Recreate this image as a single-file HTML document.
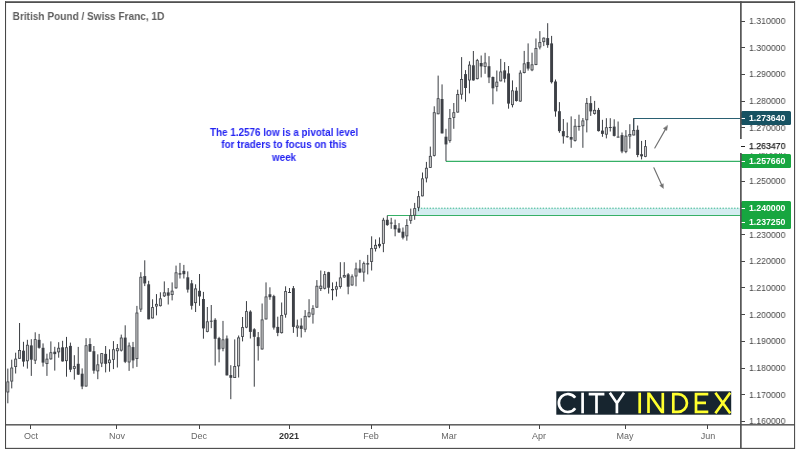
<!DOCTYPE html>
<html><head><meta charset="utf-8"><title>GBPCHF</title>
<style>
html,body{margin:0;padding:0;background:#fff;}
body{width:800px;height:454px;position:relative;overflow:hidden;font-family:"Liberation Sans",sans-serif;}
#frame{position:absolute;left:5px;top:1.5px;width:788px;height:445px;border:1.5px solid #444;box-sizing:content-box;}
#hax{position:absolute;left:5px;top:423.9px;width:789px;height:1.5px;background:#444;}
#vax{position:absolute;left:740.3px;top:2px;width:1.4px;height:446px;background:#505050;}
#title{position:absolute;left:13px;top:10.4px;font-size:11px;font-weight:bold;color:#5e5e5e;white-space:nowrap;transform-origin:0 0;transform:translateX(-0.4px) scaleX(0.916);}
#note{position:absolute;left:183.9px;top:126.9px;width:200px;text-align:center;font-size:10.3px;line-height:12.3px;font-weight:bold;color:#2424f2;white-space:nowrap;transform:scaleX(0.958);transform-origin:50% 0;}
.yl{position:absolute;left:749.1px;font-size:9.6px;line-height:12px;height:12px;color:#484848;white-space:nowrap;transform:scaleX(0.91);transform-origin:0 50%;}
.tk{position:absolute;left:741px;width:4px;height:1px;background:#444;}
.xl{position:absolute;top:430px;width:40px;text-align:center;font-size:9px;line-height:12px;color:#666;}
.xl.b{font-weight:bold;color:#333;}
.xt{position:absolute;top:425px;width:1px;height:3.5px;background:#444;}
.pl{position:absolute;left:741px;width:49.7px;height:13.8px;border-radius:1.5px;color:#fff;font-size:9.6px;font-weight:bold;line-height:13.8px;white-space:nowrap;}
.pl span{position:absolute;left:8.4px;top:0.3px;transform:scaleX(0.91);transform-origin:0 50%;}
.pl:before{content:"";position:absolute;left:0;top:6.5px;width:3.6px;height:1px;background:#fff;}
#curbox{position:absolute;left:739.6px;top:139.3px;width:51px;height:13.7px;background:#fff;}
#curtk{position:absolute;left:741px;top:145.5px;width:3.6px;height:1.4px;background:#222;}
#cur{position:absolute;left:749.1px;top:140.4px;font-size:9.6px;line-height:12px;color:#1c1c1c;white-space:nowrap;transform:scaleX(0.91);transform-origin:0 50%;-webkit-text-stroke:0.25px #1c1c1c;}
#yax{position:absolute;left:0;top:0;width:800px;height:425px;overflow:hidden;}
svg{position:absolute;left:0;top:0;}
.yl,#cur,.xl,.pl,#title,#note{will-change:transform;}
</style></head><body>
<svg width="800" height="454" viewBox="0 0 800 454">
<rect x="415" y="208.2" width="325.5" height="7.2" fill="#d3edf0"/>
<line x1="418" y1="208.2" x2="741" y2="208.2" stroke="#35b58a" stroke-width="1" stroke-dasharray="1.4 1.5"/>
<line x1="387.2" y1="215.5" x2="741" y2="215.5" stroke="#36b066" stroke-width="1.1"/>
<line x1="445.9" y1="161.3" x2="741" y2="161.3" stroke="#36b066" stroke-width="1.15"/>
<polyline points="633.7,130 633.7,118.5 741,118.5" fill="none" stroke="#2a6072" stroke-width="1"/>
<g stroke="#3a3d42" stroke-width="1"><line x1="7.83" y1="368.6" x2="7.83" y2="403.3"/><line x1="11.74" y1="359.7" x2="11.74" y2="388.4"/><line x1="15.65" y1="352.7" x2="15.65" y2="373.5"/><line x1="19.56" y1="323.0" x2="19.56" y2="358.7"/><line x1="23.48" y1="341.8" x2="23.48" y2="366.6"/><line x1="27.39" y1="339.8" x2="27.39" y2="368.6"/><line x1="31.30" y1="339.2" x2="31.30" y2="375.9"/><line x1="35.21" y1="332.3" x2="35.21" y2="364.0"/><line x1="39.12" y1="333.9" x2="39.12" y2="348.7"/><line x1="43.04" y1="343.4" x2="43.04" y2="366.6"/><line x1="46.95" y1="353.7" x2="46.95" y2="375.9"/><line x1="50.86" y1="341.4" x2="50.86" y2="359.7"/><line x1="54.77" y1="346.8" x2="54.77" y2="370.6"/><line x1="58.68" y1="342.2" x2="58.68" y2="357.7"/><line x1="62.60" y1="340.8" x2="62.60" y2="361.6"/><line x1="66.51" y1="336.9" x2="66.51" y2="376.7"/><line x1="70.42" y1="342.6" x2="70.42" y2="372.1"/><line x1="74.33" y1="355.2" x2="74.33" y2="379.6"/><line x1="78.24" y1="346.9" x2="78.24" y2="375.0"/><line x1="82.16" y1="368.4" x2="82.16" y2="389.2"/><line x1="86.07" y1="338.2" x2="86.07" y2="386.5"/><line x1="89.98" y1="338.2" x2="89.98" y2="351.9"/><line x1="93.89" y1="346.0" x2="93.89" y2="373.7"/><line x1="97.80" y1="354.3" x2="97.80" y2="379.2"/><line x1="101.72" y1="353.0" x2="101.72" y2="367.1"/><line x1="105.63" y1="346.0" x2="105.63" y2="372.4"/><line x1="109.54" y1="349.3" x2="109.54" y2="371.7"/><line x1="113.45" y1="341.1" x2="113.45" y2="369.1"/><line x1="117.36" y1="344.0" x2="117.36" y2="367.5"/><line x1="121.28" y1="334.6" x2="121.28" y2="351.5"/><line x1="125.19" y1="325.3" x2="125.19" y2="363.1"/><line x1="129.10" y1="342.5" x2="129.10" y2="370.9"/><line x1="133.01" y1="341.9" x2="133.01" y2="368.3"/><line x1="136.92" y1="305.9" x2="136.92" y2="366.9"/><line x1="140.84" y1="272.2" x2="140.84" y2="312.0"/><line x1="144.75" y1="260.3" x2="144.75" y2="286.1"/><line x1="148.66" y1="280.8" x2="148.66" y2="319.3"/><line x1="152.57" y1="299.3" x2="152.57" y2="318.4"/><line x1="156.48" y1="294.1" x2="156.48" y2="315.4"/><line x1="160.40" y1="292.3" x2="160.40" y2="306.5"/><line x1="164.31" y1="281.4" x2="164.31" y2="297.0"/><line x1="168.22" y1="288.0" x2="168.22" y2="304.5"/><line x1="172.13" y1="282.4" x2="172.13" y2="300.4"/><line x1="176.04" y1="265.6" x2="176.04" y2="288.7"/><line x1="179.96" y1="262.9" x2="179.96" y2="278.5"/><line x1="183.87" y1="264.9" x2="183.87" y2="278.5"/><line x1="187.78" y1="271.4" x2="187.78" y2="292.6"/><line x1="191.69" y1="280.0" x2="191.69" y2="309.6"/><line x1="195.60" y1="284.3" x2="195.60" y2="312.0"/><line x1="199.52" y1="274.0" x2="199.52" y2="305.8"/><line x1="203.43" y1="291.9" x2="203.43" y2="338.7"/><line x1="207.34" y1="307.0" x2="207.34" y2="332.3"/><line x1="211.25" y1="305.0" x2="211.25" y2="328.2"/><line x1="215.16" y1="318.2" x2="215.16" y2="365.6"/><line x1="219.08" y1="336.8" x2="219.08" y2="362.3"/><line x1="222.99" y1="320.9" x2="222.99" y2="351.3"/><line x1="226.90" y1="335.5" x2="226.90" y2="375.4"/><line x1="230.81" y1="365.2" x2="230.81" y2="399.2"/><line x1="234.72" y1="339.4" x2="234.72" y2="378.0"/><line x1="238.64" y1="335.5" x2="238.64" y2="377.5"/><line x1="242.55" y1="317.0" x2="242.55" y2="341.4"/><line x1="246.46" y1="301.1" x2="246.46" y2="328.2"/><line x1="250.37" y1="310.3" x2="250.37" y2="338.5"/><line x1="254.28" y1="328.2" x2="254.28" y2="386.7"/><line x1="258.20" y1="332.0" x2="258.20" y2="360.6"/><line x1="262.11" y1="303.5" x2="262.11" y2="349.6"/><line x1="266.02" y1="282.4" x2="266.02" y2="319.4"/><line x1="269.93" y1="287.3" x2="269.93" y2="299.8"/><line x1="273.84" y1="294.8" x2="273.84" y2="329.6"/><line x1="277.76" y1="316.7" x2="277.76" y2="336.2"/><line x1="281.67" y1="302.5" x2="281.67" y2="333.5"/><line x1="285.58" y1="286.3" x2="285.58" y2="317.7"/><line x1="289.49" y1="288.0" x2="289.49" y2="292.8"/><line x1="293.40" y1="286.0" x2="293.40" y2="332.9"/><line x1="297.32" y1="319.6" x2="297.32" y2="336.8"/><line x1="301.23" y1="318.3" x2="301.23" y2="337.5"/><line x1="305.14" y1="310.1" x2="305.14" y2="332.2"/><line x1="309.05" y1="299.2" x2="309.05" y2="317.7"/><line x1="312.96" y1="305.2" x2="312.96" y2="323.6"/><line x1="316.88" y1="280.1" x2="316.88" y2="307.6"/><line x1="320.79" y1="270.5" x2="320.79" y2="291.0"/><line x1="324.70" y1="271.1" x2="324.70" y2="289.4"/><line x1="328.61" y1="271.8" x2="328.61" y2="293.6"/><line x1="332.52" y1="282.4" x2="332.52" y2="300.2"/><line x1="336.44" y1="281.7" x2="336.44" y2="296.5"/><line x1="340.35" y1="262.2" x2="340.35" y2="288.6"/><line x1="344.26" y1="262.2" x2="344.26" y2="277.8"/><line x1="348.17" y1="273.1" x2="348.17" y2="294.3"/><line x1="352.08" y1="274.4" x2="352.08" y2="285.7"/><line x1="356.00" y1="262.6" x2="356.00" y2="286.3"/><line x1="359.91" y1="259.9" x2="359.91" y2="273.1"/><line x1="363.82" y1="261.6" x2="363.82" y2="281.7"/><line x1="367.73" y1="254.9" x2="367.73" y2="274.4"/><line x1="371.64" y1="236.3" x2="371.64" y2="270.5"/><line x1="375.56" y1="239.4" x2="375.56" y2="251.5"/><line x1="379.47" y1="237.4" x2="379.47" y2="248.2"/><line x1="383.38" y1="217.8" x2="383.38" y2="252.2"/><line x1="387.29" y1="215.6" x2="387.29" y2="225.8"/><line x1="391.20" y1="217.8" x2="391.20" y2="228.8"/><line x1="395.12" y1="219.6" x2="395.12" y2="236.3"/><line x1="399.03" y1="223.1" x2="399.03" y2="233.0"/><line x1="402.94" y1="227.5" x2="402.94" y2="239.4"/><line x1="406.85" y1="219.2" x2="406.85" y2="240.7"/><line x1="410.76" y1="208.6" x2="410.76" y2="223.8"/><line x1="414.68" y1="202.9" x2="414.68" y2="219.8"/><line x1="418.59" y1="191.0" x2="418.59" y2="211.2"/><line x1="422.50" y1="172.5" x2="422.50" y2="196.3"/><line x1="426.41" y1="161.9" x2="426.41" y2="182.4"/><line x1="430.32" y1="146.6" x2="430.32" y2="167.8"/><line x1="434.24" y1="106.3" x2="434.24" y2="156.5"/><line x1="438.15" y1="75.6" x2="438.15" y2="114.3"/><line x1="442.06" y1="84.4" x2="442.06" y2="133.4"/><line x1="445.97" y1="128.8" x2="445.97" y2="161.2"/><line x1="449.88" y1="109.0" x2="449.88" y2="142.7"/><line x1="453.80" y1="103.0" x2="453.80" y2="128.8"/><line x1="457.71" y1="89.7" x2="457.71" y2="112.6"/><line x1="461.62" y1="57.1" x2="461.62" y2="99.4"/><line x1="465.53" y1="70.1" x2="465.53" y2="101.7"/><line x1="469.44" y1="61.3" x2="469.44" y2="93.4"/><line x1="473.36" y1="51.0" x2="473.36" y2="80.7"/><line x1="477.27" y1="58.9" x2="477.27" y2="79.4"/><line x1="481.18" y1="55.5" x2="481.18" y2="77.4"/><line x1="485.09" y1="52.8" x2="485.09" y2="73.8"/><line x1="489.00" y1="56.2" x2="489.00" y2="83.1"/><line x1="492.92" y1="76.5" x2="492.92" y2="104.3"/><line x1="496.83" y1="70.5" x2="496.83" y2="91.4"/><line x1="500.74" y1="58.9" x2="500.74" y2="81.3"/><line x1="504.65" y1="62.1" x2="504.65" y2="82.5"/><line x1="508.56" y1="66.0" x2="508.56" y2="108.7"/><line x1="512.48" y1="80.4" x2="512.48" y2="107.4"/><line x1="516.39" y1="87.2" x2="516.39" y2="101.6"/><line x1="520.30" y1="70.3" x2="520.30" y2="101.8"/><line x1="524.21" y1="50.9" x2="524.21" y2="73.4"/><line x1="528.12" y1="43.4" x2="528.12" y2="70.6"/><line x1="532.04" y1="52.7" x2="532.04" y2="71.2"/><line x1="535.95" y1="38.5" x2="535.95" y2="65.2"/><line x1="539.86" y1="31.1" x2="539.86" y2="49.4"/><line x1="543.77" y1="37.5" x2="543.77" y2="46.1"/><line x1="547.68" y1="23.2" x2="547.68" y2="47.8"/><line x1="551.60" y1="35.9" x2="551.60" y2="83.5"/><line x1="555.51" y1="79.5" x2="555.51" y2="116.7"/><line x1="559.42" y1="102.1" x2="559.42" y2="132.8"/><line x1="563.33" y1="119.0" x2="563.33" y2="143.6"/><line x1="567.24" y1="122.5" x2="567.24" y2="137.7"/><line x1="571.16" y1="116.4" x2="571.16" y2="147.8"/><line x1="575.07" y1="119.0" x2="575.07" y2="141.6"/><line x1="578.98" y1="114.7" x2="578.98" y2="130.7"/><line x1="582.89" y1="118.0" x2="582.89" y2="147.8"/><line x1="586.80" y1="98.0" x2="586.80" y2="132.4"/><line x1="590.72" y1="96.1" x2="590.72" y2="115.9"/><line x1="594.63" y1="100.9" x2="594.63" y2="114.6"/><line x1="598.54" y1="107.9" x2="598.54" y2="131.5"/><line x1="602.45" y1="119.8" x2="602.45" y2="136.8"/><line x1="606.36" y1="118.2" x2="606.36" y2="138.4"/><line x1="610.28" y1="118.2" x2="610.28" y2="131.5"/><line x1="614.19" y1="119.3" x2="614.19" y2="136.5"/><line x1="618.10" y1="121.5" x2="618.10" y2="137.4"/><line x1="622.01" y1="132.5" x2="622.01" y2="153.2"/><line x1="625.92" y1="130.1" x2="625.92" y2="153.2"/><line x1="629.84" y1="124.2" x2="629.84" y2="148.6"/><line x1="633.75" y1="118.2" x2="633.75" y2="135.4"/><line x1="637.66" y1="125.5" x2="637.66" y2="157.2"/><line x1="641.57" y1="140.9" x2="641.57" y2="159.4"/><line x1="645.48" y1="140.0" x2="645.48" y2="157.2"/></g><rect x="6.78" y="381.9" width="2.10" height="10.1" fill="#c9c9c9" stroke="#3d4046" stroke-width="0.8"/><rect x="10.69" y="368.0" width="2.10" height="13.1" fill="#c9c9c9" stroke="#3d4046" stroke-width="0.8"/><rect x="14.60" y="359.1" width="2.10" height="7.5" fill="#c9c9c9" stroke="#3d4046" stroke-width="0.8"/><rect x="18.51" y="350.5" width="2.10" height="7.8" fill="#c9c9c9" stroke="#3d4046" stroke-width="0.8"/><rect x="22.03" y="350.7" width="2.9" height="10.9" fill="#3d4046"/><rect x="26.34" y="345.2" width="2.10" height="15.6" fill="#c9c9c9" stroke="#3d4046" stroke-width="0.8"/><rect x="29.85" y="345.4" width="2.9" height="14.3" fill="#3d4046"/><rect x="34.16" y="339.6" width="2.10" height="20.6" fill="#c9c9c9" stroke="#3d4046" stroke-width="0.8"/><rect x="37.67" y="339.8" width="2.9" height="8.0" fill="#3d4046"/><rect x="41.59" y="347.8" width="2.9" height="14.8" fill="#3d4046"/><rect x="45.90" y="359.1" width="2.10" height="4.5" fill="#c9c9c9" stroke="#3d4046" stroke-width="0.8"/><rect x="49.81" y="352.7" width="2.10" height="6.2" fill="#c9c9c9" stroke="#3d4046" stroke-width="0.8"/><rect x="53.32" y="351.7" width="2.9" height="2.4" fill="#3d4046"/><rect x="57.63" y="348.2" width="2.10" height="3.7" fill="#c9c9c9" stroke="#3d4046" stroke-width="0.8"/><rect x="61.15" y="347.3" width="2.9" height="14.1" fill="#3d4046"/><rect x="65.46" y="347.7" width="2.10" height="13.0" fill="#c9c9c9" stroke="#3d4046" stroke-width="0.8"/><rect x="68.97" y="345.9" width="2.9" height="23.8" fill="#3d4046"/><rect x="73.28" y="366.6" width="2.10" height="1.8" fill="#c9c9c9" stroke="#3d4046" stroke-width="0.8"/><rect x="76.79" y="363.8" width="2.9" height="10.8" fill="#3d4046"/><rect x="80.71" y="373.7" width="2.9" height="12.8" fill="#3d4046"/><rect x="85.02" y="345.7" width="2.10" height="40.4" fill="#c9c9c9" stroke="#3d4046" stroke-width="0.8"/><rect x="88.53" y="344.0" width="2.9" height="7.6" fill="#3d4046"/><rect x="92.44" y="351.2" width="2.9" height="19.5" fill="#3d4046"/><rect x="96.75" y="364.8" width="2.10" height="6.1" fill="#c9c9c9" stroke="#3d4046" stroke-width="0.8"/><rect x="100.67" y="353.6" width="2.10" height="9.5" fill="#c9c9c9" stroke="#3d4046" stroke-width="0.8"/><rect x="104.18" y="353.9" width="2.9" height="9.9" fill="#3d4046"/><rect x="108.49" y="360.0" width="2.10" height="2.7" fill="#c9c9c9" stroke="#3d4046" stroke-width="0.8"/><rect x="112.40" y="349.7" width="2.10" height="9.7" fill="#c9c9c9" stroke="#3d4046" stroke-width="0.8"/><rect x="116.31" y="348.6" width="2.10" height="2.2" fill="#c9c9c9" stroke="#3d4046" stroke-width="0.8"/><rect x="120.23" y="338.0" width="2.10" height="12.2" fill="#c9c9c9" stroke="#3d4046" stroke-width="0.8"/><rect x="123.74" y="337.6" width="2.9" height="24.2" fill="#3d4046"/><rect x="128.05" y="345.9" width="2.10" height="16.1" fill="#c9c9c9" stroke="#3d4046" stroke-width="0.8"/><rect x="131.56" y="347.1" width="2.9" height="13.3" fill="#3d4046"/><rect x="135.87" y="313.0" width="2.10" height="45.6" fill="#c9c9c9" stroke="#3d4046" stroke-width="0.8"/><rect x="139.79" y="277.2" width="2.10" height="31.9" fill="#c9c9c9" stroke="#3d4046" stroke-width="0.8"/><rect x="143.30" y="276.1" width="2.9" height="7.3" fill="#3d4046"/><rect x="147.21" y="284.3" width="2.9" height="35.0" fill="#3d4046"/><rect x="151.52" y="307.6" width="2.10" height="10.4" fill="#c9c9c9" stroke="#3d4046" stroke-width="0.8"/><rect x="155.43" y="304.3" width="2.10" height="1.8" fill="#c9c9c9" stroke="#3d4046" stroke-width="0.8"/><rect x="159.35" y="298.8" width="2.10" height="6.9" fill="#c9c9c9" stroke="#3d4046" stroke-width="0.8"/><rect x="163.26" y="292.8" width="2.10" height="3.1" fill="#c9c9c9" stroke="#3d4046" stroke-width="0.8"/><rect x="166.77" y="292.4" width="2.9" height="3.3" fill="#3d4046"/><rect x="171.08" y="291.1" width="2.10" height="3.5" fill="#c9c9c9" stroke="#3d4046" stroke-width="0.8"/><rect x="174.99" y="272.8" width="2.10" height="15.1" fill="#c9c9c9" stroke="#3d4046" stroke-width="0.8"/><rect x="178.51" y="273.2" width="2.9" height="1.4" fill="#3d4046"/><rect x="182.42" y="270.9" width="2.9" height="3.3" fill="#3d4046"/><rect x="186.33" y="277.3" width="2.9" height="12.3" fill="#3d4046"/><rect x="190.24" y="283.3" width="2.9" height="22.5" fill="#3d4046"/><rect x="194.55" y="288.9" width="2.10" height="13.8" fill="#c9c9c9" stroke="#3d4046" stroke-width="0.8"/><rect x="198.07" y="290.8" width="2.9" height="5.7" fill="#3d4046"/><rect x="201.98" y="299.0" width="2.9" height="29.4" fill="#3d4046"/><rect x="206.29" y="321.8" width="2.10" height="9.8" fill="#c9c9c9" stroke="#3d4046" stroke-width="0.8"/><rect x="209.80" y="320.7" width="2.9" height="1.0" fill="#3d4046"/><rect x="213.71" y="319.8" width="2.9" height="19.0" fill="#3d4046"/><rect x="217.63" y="338.1" width="2.9" height="11.3" fill="#3d4046"/><rect x="221.94" y="339.8" width="2.10" height="8.5" fill="#c9c9c9" stroke="#3d4046" stroke-width="0.8"/><rect x="225.45" y="338.5" width="2.9" height="36.9" fill="#3d4046"/><rect x="229.36" y="375.1" width="2.9" height="2.7" fill="#3d4046"/><rect x="233.67" y="366.5" width="2.10" height="11.1" fill="#c9c9c9" stroke="#3d4046" stroke-width="0.8"/><rect x="237.59" y="337.9" width="2.10" height="28.0" fill="#c9c9c9" stroke="#3d4046" stroke-width="0.8"/><rect x="241.50" y="327.6" width="2.10" height="8.8" fill="#c9c9c9" stroke="#3d4046" stroke-width="0.8"/><rect x="245.41" y="311.6" width="2.10" height="15.6" fill="#c9c9c9" stroke="#3d4046" stroke-width="0.8"/><rect x="248.92" y="311.6" width="2.9" height="20.3" fill="#3d4046"/><rect x="252.83" y="329.3" width="2.9" height="7.5" fill="#3d4046"/><rect x="256.75" y="337.2" width="2.9" height="8.9" fill="#3d4046"/><rect x="261.06" y="319.9" width="2.10" height="29.1" fill="#c9c9c9" stroke="#3d4046" stroke-width="0.8"/><rect x="264.97" y="296.9" width="2.10" height="22.1" fill="#c9c9c9" stroke="#3d4046" stroke-width="0.8"/><rect x="268.48" y="294.3" width="2.9" height="2.9" fill="#3d4046"/><rect x="272.39" y="296.1" width="2.9" height="31.5" fill="#3d4046"/><rect x="276.31" y="326.9" width="2.9" height="6.0" fill="#3d4046"/><rect x="280.62" y="315.4" width="2.10" height="17.3" fill="#c9c9c9" stroke="#3d4046" stroke-width="0.8"/><rect x="284.53" y="291.6" width="2.10" height="22.6" fill="#c9c9c9" stroke="#3d4046" stroke-width="0.8"/><rect x="288.04" y="292.0" width="2.9" height="1.0" fill="#3d4046"/><rect x="291.95" y="288.2" width="2.9" height="38.7" fill="#3d4046"/><rect x="296.27" y="326.0" width="2.10" height="1.8" fill="#c9c9c9" stroke="#3d4046" stroke-width="0.8"/><rect x="299.78" y="325.6" width="2.9" height="3.3" fill="#3d4046"/><rect x="304.09" y="316.3" width="2.10" height="12.9" fill="#c9c9c9" stroke="#3d4046" stroke-width="0.8"/><rect x="308.00" y="312.8" width="2.10" height="3.8" fill="#c9c9c9" stroke="#3d4046" stroke-width="0.8"/><rect x="311.91" y="308.7" width="2.10" height="5.5" fill="#c9c9c9" stroke="#3d4046" stroke-width="0.8"/><rect x="315.83" y="286.2" width="2.10" height="21.0" fill="#c9c9c9" stroke="#3d4046" stroke-width="0.8"/><rect x="319.74" y="286.1" width="2.10" height="2.5" fill="#c9c9c9" stroke="#3d4046" stroke-width="0.8"/><rect x="323.65" y="274.6" width="2.10" height="13.7" fill="#c9c9c9" stroke="#3d4046" stroke-width="0.8"/><rect x="327.16" y="272.2" width="2.9" height="15.5" fill="#3d4046"/><rect x="331.07" y="289.0" width="2.9" height="1.3" fill="#3d4046"/><rect x="335.39" y="286.7" width="2.10" height="2.5" fill="#c9c9c9" stroke="#3d4046" stroke-width="0.8"/><rect x="339.30" y="277.9" width="2.10" height="8.7" fill="#c9c9c9" stroke="#3d4046" stroke-width="0.8"/><rect x="343.21" y="275.5" width="2.10" height="1.5" fill="#c9c9c9" stroke="#3d4046" stroke-width="0.8"/><rect x="346.72" y="274.4" width="2.9" height="12.3" fill="#3d4046"/><rect x="351.03" y="276.8" width="2.10" height="8.2" fill="#c9c9c9" stroke="#3d4046" stroke-width="0.8"/><rect x="354.95" y="268.9" width="2.10" height="7.1" fill="#c9c9c9" stroke="#3d4046" stroke-width="0.8"/><rect x="358.46" y="268.5" width="2.9" height="4.0" fill="#3d4046"/><rect x="362.77" y="263.6" width="2.10" height="8.5" fill="#c9c9c9" stroke="#3d4046" stroke-width="0.8"/><rect x="366.28" y="263.2" width="2.9" height="1.3" fill="#3d4046"/><rect x="370.59" y="248.6" width="2.10" height="12.9" fill="#c9c9c9" stroke="#3d4046" stroke-width="0.8"/><rect x="374.51" y="245.3" width="2.10" height="3.2" fill="#c9c9c9" stroke="#3d4046" stroke-width="0.8"/><rect x="378.02" y="243.9" width="2.9" height="2.4" fill="#3d4046"/><rect x="382.33" y="220.2" width="2.10" height="23.3" fill="#c9c9c9" stroke="#3d4046" stroke-width="0.8"/><rect x="385.84" y="219.8" width="2.9" height="5.3" fill="#3d4046"/><rect x="389.75" y="222.6" width="2.9" height="1.0" fill="#3d4046"/><rect x="393.67" y="225.1" width="2.9" height="4.2" fill="#3d4046"/><rect x="397.58" y="228.4" width="2.9" height="4.0" fill="#3d4046"/><rect x="401.49" y="231.7" width="2.9" height="6.0" fill="#3d4046"/><rect x="405.80" y="225.5" width="2.10" height="10.4" fill="#c9c9c9" stroke="#3d4046" stroke-width="0.8"/><rect x="409.71" y="215.6" width="2.10" height="4.9" fill="#c9c9c9" stroke="#3d4046" stroke-width="0.8"/><rect x="413.63" y="208.6" width="2.10" height="6.6" fill="#c9c9c9" stroke="#3d4046" stroke-width="0.8"/><rect x="417.54" y="196.7" width="2.10" height="10.6" fill="#c9c9c9" stroke="#3d4046" stroke-width="0.8"/><rect x="421.45" y="178.8" width="2.10" height="17.1" fill="#c9c9c9" stroke="#3d4046" stroke-width="0.8"/><rect x="425.36" y="168.2" width="2.10" height="9.8" fill="#c9c9c9" stroke="#3d4046" stroke-width="0.8"/><rect x="429.27" y="156.3" width="2.10" height="11.1" fill="#c9c9c9" stroke="#3d4046" stroke-width="0.8"/><rect x="433.19" y="112.7" width="2.10" height="42.8" fill="#c9c9c9" stroke="#3d4046" stroke-width="0.8"/><rect x="437.10" y="98.7" width="2.10" height="15.1" fill="#c9c9c9" stroke="#3d4046" stroke-width="0.8"/><rect x="440.61" y="99.0" width="2.9" height="34.4" fill="#3d4046"/><rect x="444.52" y="136.7" width="2.9" height="7.7" fill="#3d4046"/><rect x="448.83" y="118.4" width="2.10" height="22.1" fill="#c9c9c9" stroke="#3d4046" stroke-width="0.8"/><rect x="452.75" y="112.7" width="2.10" height="4.7" fill="#c9c9c9" stroke="#3d4046" stroke-width="0.8"/><rect x="456.66" y="94.5" width="2.10" height="17.6" fill="#c9c9c9" stroke="#3d4046" stroke-width="0.8"/><rect x="460.57" y="79.4" width="2.10" height="14.8" fill="#c9c9c9" stroke="#3d4046" stroke-width="0.8"/><rect x="464.08" y="74.1" width="2.9" height="13.9" fill="#3d4046"/><rect x="468.39" y="65.1" width="2.10" height="14.9" fill="#c9c9c9" stroke="#3d4046" stroke-width="0.8"/><rect x="471.91" y="65.3" width="2.9" height="15.1" fill="#3d4046"/><rect x="476.22" y="60.6" width="2.10" height="18.1" fill="#c9c9c9" stroke="#3d4046" stroke-width="0.8"/><rect x="479.73" y="63.0" width="2.9" height="3.4" fill="#3d4046"/><rect x="484.04" y="62.9" width="2.10" height="3.6" fill="#c9c9c9" stroke="#3d4046" stroke-width="0.8"/><rect x="487.55" y="66.2" width="2.9" height="11.2" fill="#3d4046"/><rect x="491.47" y="77.0" width="2.9" height="11.3" fill="#3d4046"/><rect x="495.78" y="82.1" width="2.10" height="4.4" fill="#c9c9c9" stroke="#3d4046" stroke-width="0.8"/><rect x="499.69" y="71.9" width="2.10" height="9.0" fill="#c9c9c9" stroke="#3d4046" stroke-width="0.8"/><rect x="503.20" y="70.4" width="2.9" height="8.4" fill="#3d4046"/><rect x="507.11" y="73.4" width="2.9" height="30.2" fill="#3d4046"/><rect x="511.43" y="90.8" width="2.10" height="13.9" fill="#c9c9c9" stroke="#3d4046" stroke-width="0.8"/><rect x="514.94" y="90.7" width="2.9" height="10.3" fill="#3d4046"/><rect x="519.25" y="73.1" width="2.10" height="28.0" fill="#c9c9c9" stroke="#3d4046" stroke-width="0.8"/><rect x="523.16" y="63.8" width="2.10" height="8.8" fill="#c9c9c9" stroke="#3d4046" stroke-width="0.8"/><rect x="526.67" y="62.0" width="2.9" height="6.6" fill="#3d4046"/><rect x="530.99" y="64.8" width="2.10" height="5.1" fill="#c9c9c9" stroke="#3d4046" stroke-width="0.8"/><rect x="534.90" y="48.4" width="2.10" height="16.2" fill="#c9c9c9" stroke="#3d4046" stroke-width="0.8"/><rect x="538.81" y="42.5" width="2.10" height="4.5" fill="#c9c9c9" stroke="#3d4046" stroke-width="0.8"/><rect x="542.72" y="38.1" width="2.10" height="3.6" fill="#c9c9c9" stroke="#3d4046" stroke-width="0.8"/><rect x="546.23" y="38.1" width="2.9" height="7.0" fill="#3d4046"/><rect x="550.15" y="43.4" width="2.9" height="38.8" fill="#3d4046"/><rect x="554.06" y="81.5" width="2.9" height="29.9" fill="#3d4046"/><rect x="557.97" y="111.2" width="2.9" height="19.9" fill="#3d4046"/><rect x="561.88" y="131.1" width="2.9" height="5.2" fill="#3d4046"/><rect x="565.79" y="136.2" width="2.9" height="1.0" fill="#3d4046"/><rect x="569.71" y="137.0" width="2.9" height="2.6" fill="#3d4046"/><rect x="574.02" y="126.2" width="2.10" height="14.4" fill="#c9c9c9" stroke="#3d4046" stroke-width="0.8"/><rect x="577.53" y="125.9" width="2.9" height="1.0" fill="#3d4046"/><rect x="581.84" y="120.9" width="2.10" height="4.9" fill="#c9c9c9" stroke="#3d4046" stroke-width="0.8"/><rect x="585.75" y="103.3" width="2.10" height="16.5" fill="#c9c9c9" stroke="#3d4046" stroke-width="0.8"/><rect x="589.27" y="103.1" width="2.9" height="8.3" fill="#3d4046"/><rect x="593.58" y="110.3" width="2.10" height="3.2" fill="#c9c9c9" stroke="#3d4046" stroke-width="0.8"/><rect x="597.09" y="109.9" width="2.9" height="21.2" fill="#3d4046"/><rect x="601.00" y="130.6" width="2.9" height="3.3" fill="#3d4046"/><rect x="605.31" y="127.7" width="2.10" height="6.5" fill="#c9c9c9" stroke="#3d4046" stroke-width="0.8"/><rect x="608.83" y="127.0" width="2.9" height="1.0" fill="#3d4046"/><rect x="612.74" y="126.6" width="2.9" height="9.3" fill="#3d4046"/><rect x="616.65" y="136.6" width="2.9" height="1.0" fill="#3d4046"/><rect x="620.56" y="135.1" width="2.9" height="16.4" fill="#3d4046"/><rect x="624.87" y="136.1" width="2.10" height="15.4" fill="#c9c9c9" stroke="#3d4046" stroke-width="0.8"/><rect x="628.79" y="134.5" width="2.10" height="1.6" fill="#c9c9c9" stroke="#3d4046" stroke-width="0.8"/><rect x="632.70" y="130.5" width="2.10" height="4.5" fill="#c9c9c9" stroke="#3d4046" stroke-width="0.8"/><rect x="636.21" y="129.8" width="2.9" height="25.2" fill="#3d4046"/><rect x="640.12" y="154.2" width="2.9" height="2.1" fill="#3d4046"/><rect x="644.43" y="146.6" width="2.10" height="9.8" fill="#c9c9c9" stroke="#3d4046" stroke-width="0.8"/>
<g stroke="#707070" stroke-width="1.15" fill="#707070" stroke-linecap="round">
<line x1="654.8" y1="148" x2="666.4" y2="127.6"/>
<polygon points="667.5,125.7 666.8,130.4 663.6,128.6" stroke-width="0.5"/>
<line x1="653.9" y1="167.8" x2="662.3" y2="186.3"/>
<polygon points="663.2,188.2 659.7,185.4 663.1,183.9" stroke-width="0.5"/>
</g>
</svg>

<div id="title">British Pound / Swiss Franc, 1D</div>
<div id="note">The 1.2576 low is a pivotal level<br>for traders to focus on this<br>week</div>
<div id="yax"><div class="yl" style="top:15.00px">1.310000</div><div class="tk" style="top:20.5px"></div><div class="yl" style="top:41.69px">1.300000</div><div class="tk" style="top:47.2px"></div><div class="yl" style="top:68.39px">1.290000</div><div class="tk" style="top:73.9px"></div><div class="yl" style="top:95.08px">1.280000</div><div class="tk" style="top:100.6px"></div><div class="yl" style="top:121.77px">1.270000</div><div class="tk" style="top:127.3px"></div><div class="yl" style="top:148.47px">1.260000</div><div class="tk" style="top:154.0px"></div><div class="yl" style="top:175.16px">1.250000</div><div class="tk" style="top:180.7px"></div><div class="yl" style="top:201.85px">1.240000</div><div class="tk" style="top:207.4px"></div><div class="yl" style="top:228.54px">1.230000</div><div class="tk" style="top:234.0px"></div><div class="yl" style="top:255.24px">1.220000</div><div class="tk" style="top:260.7px"></div><div class="yl" style="top:281.93px">1.210000</div><div class="tk" style="top:287.4px"></div><div class="yl" style="top:308.62px">1.200000</div><div class="tk" style="top:314.1px"></div><div class="yl" style="top:335.32px">1.190000</div><div class="tk" style="top:340.8px"></div><div class="yl" style="top:362.01px">1.180000</div><div class="tk" style="top:367.5px"></div><div class="yl" style="top:388.70px">1.170000</div><div class="tk" style="top:394.2px"></div><div class="yl" style="top:415.39px">1.160000</div><div class="tk" style="top:420.9px"></div></div>
<div class="pl" style="top:111.2px;background:#175262"><span>1.273640</span></div>
<div class="pl" style="top:154.3px;background:#17a640"><span>1.257660</span></div>
<div class="pl" style="top:201.2px;height:13.5px;background:#17a640;border-radius:1.5px 1.5px 0 0"><span>1.240000</span></div>
<div class="pl" style="top:214.5px;height:13.5px;background:#17a640;border-radius:0 0 1.5px 1.5px"><span>1.237250</span></div>
<div class="xl" style="left:10.8px">Oct</div><div class="xt" style="left:30.3px"></div><div class="xl" style="left:96.9px">Nov</div><div class="xt" style="left:116.4px"></div><div class="xl" style="left:179.0px">Dec</div><div class="xt" style="left:198.5px"></div><div class="xl b" style="left:269.0px">2021</div><div class="xt" style="left:288.5px"></div><div class="xl" style="left:351.1px">Feb</div><div class="xt" style="left:370.6px"></div><div class="xl" style="left:429.4px">Mar</div><div class="xt" style="left:448.9px"></div><div class="xl" style="left:519.4px">Apr</div><div class="xt" style="left:538.9px"></div><div class="xl" style="left:605.4px">May</div><div class="xt" style="left:624.9px"></div><div class="xl" style="left:687.6px">Jun</div><div class="xt" style="left:707.1px"></div>
<svg width="800" height="454" viewBox="0 0 800 454"><g fill="#484848">
<rect x="5" y="1.25" width="790" height="1.7"/>
<rect x="5" y="1.25" width="1.05" height="447.7"/>
<rect x="794.05" y="1.25" width="1.05" height="447.7"/>
<rect x="5" y="447.85" width="790" height="1.1"/>
<rect x="5" y="424.15" width="790" height="1.35"/>
<rect x="740.05" y="1.25" width="1.65" height="447.7" fill="#505050"/>
</g></svg>
<div id="curbox"></div><div id="curtk"></div><div id="cur">1.263470</div>
<svg width="800" height="454" viewBox="0 0 800 454" style="pointer-events:none">
<defs><clipPath id="cap"><rect x="640" y="392.6" width="30" height="20.7"/></clipPath></defs>
<rect x="556.3" y="391.3" width="174.9" height="23.4" fill="#17252f"/>
<g fill="none" stroke-width="2.7" stroke-linecap="butt" stroke-linejoin="miter">
<g stroke="#fff">
<path d="M575.2,397.8 A9.0,9.0 0 1 0 575.2,408.2"/>
<path d="M582.6,392.7 V413.3"/>
<path d="M588.7,394.05 H604.4 M596.5,394.05 V413.3"/>
<path d="M609.8,392.7 L616.9,403.2 L624.0,392.7 M616.9,403 V413.3"/>
</g>
<g stroke="#ffff2e">
<path d="M639.7,392.7 V413.3"/>
<path d="M648.5,413.3 V392.7 L662.8,413.3 V392.7" clip-path="url(#cap)" stroke-miterlimit="10"/>
<path d="M673.3,394.05 H678.0 A8.95,8.95 0 0 1 678.0,411.95 H673.3 Z"/>
<path d="M708.3,394.05 H696.0 V411.95 H708.3 M696.0,402.8 H706"/>
<path d="M715.4,392.7 L730.2,413.3 M730.2,392.7 L715.4,413.3"/>
</g></g>
</svg>
</body></html>
